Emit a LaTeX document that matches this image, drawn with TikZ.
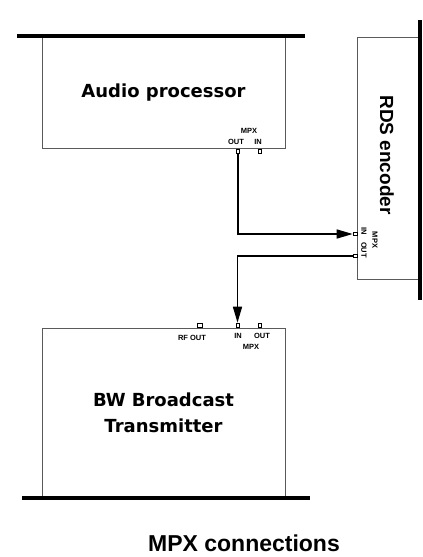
\documentclass[tikz,border=0pt]{standalone}
\usepackage{fontspec}
\setmainfont{Liberation Sans}
\newfontfamily\verdfont{DejaVu Sans}
\usetikzlibrary{arrows.meta}
\definecolor{boxgray}{HTML}{5A5A5A}
\begin{document}
\begin{tikzpicture}[x=1pt,y=-1pt,
  unitbox/.style={draw=boxgray, line width=1pt, inner sep=0pt},
  rail/.style={line width=4pt},
  port/.style={draw=black, line width=0.6pt, fill=white, inner sep=0pt},
  hport/.style={port, minimum width=3pt, minimum height=4pt},
  vport/.style={port, minimum width=4pt, minimum height=3pt},
  conn/.style={line width=1.5pt, -{Triangle[length=16pt,width=9pt]}},
  small/.style={font=\bfseries\fontsize{7.5}{7.5}\selectfont, inner sep=0pt},
  title/.style={font=\verdfont\bfseries\fontsize{18}{26}\selectfont, inner sep=0pt, align=center}]
\useasboundingbox (0,0) rectangle (423,557);

% Audio processor
\node[unitbox, minimum width=243pt, minimum height=112pt] (audio) at (163.5,92) {};
\draw[rail] (17,36) -- (305,36);
\node[title] (audiotxt) at (163.5,93) {Audio processor};
\node[hport] (aout) at (238,151) {};
\node[hport] (ain) at (260,151) {};
\node[small] (ampx) at (249,131) {MPX};
\node[small] (aoutl) at (236,142) {OUT};
\node[small] (ainl) at (258,142) {IN};

% RDS encoder
\node[unitbox, minimum width=63pt, minimum height=242pt] (rds) at (388.5,158) {};
\draw[rail] (420,20) -- (420,300);
\node[font=\bfseries\fontsize{19}{19}\selectfont, inner sep=0pt, rotate=-90] (rdstxt) at (387,155) {RDS encoder};
\node[vport] (rdsin) at (355,234) {};
\node[vport] (rdsout) at (355,256) {};
\node[small, rotate=-90] (rinl) at (364,231) {IN};
\node[small, rotate=-90] (routl) at (364,250) {OUT};
\node[small, rotate=-90] (rmpx) at (375,240) {MPX};

% Transmitter
\node[unitbox, minimum width=243pt, minimum height=170pt] (tx) at (163.5,413) {};
\draw[rail] (22,498) -- (310,498);
\node[title] (txtxt) at (163.5,413) {BW Broadcast\\Transmitter};
\node[port, minimum width=5pt, minimum height=4pt] (txrf) at (200,325) {};
\node[hport] (txin) at (237.5,325) {};
\node[hport] (txout) at (259.5,325) {};
\node[small] (rfl) at (192,338) {RF OUT};
\node[small] (tinl) at (238,336) {IN};
\node[small] (toutl) at (262,336) {OUT};
\node[small] (tmpx) at (251,347) {MPX};

% connections
\draw[conn] (aout.south) |- (rdsin.west);
\draw[conn] (rdsout.west) -| (txin.north);

\node[font=\bfseries\fontsize{23}{23}\selectfont, inner sep=0pt] (cap) at (244,543) {MPX connections};
\end{tikzpicture}
\end{document}
